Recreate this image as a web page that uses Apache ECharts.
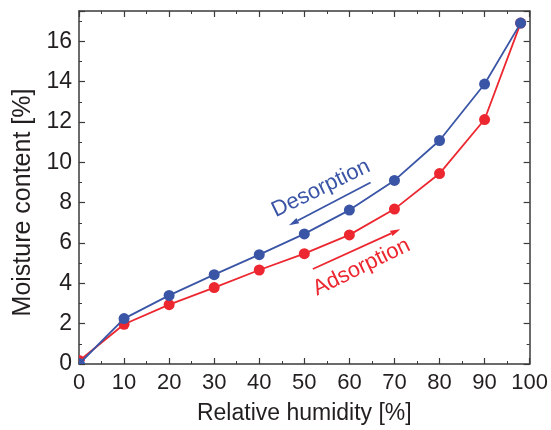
<!DOCTYPE html>
<html>
<head>
<meta charset="utf-8">
<script src="https://cdn.jsdelivr.net/npm/echarts@6/dist/echarts.min.js"></script>
<style>
html,body{margin:0;padding:0;background:#fff;}
#chart{width:551px;height:430px;}
</style>
</head>
<body>
<div id="chart"></div>
<script>
const humidity = [0, 10, 20, 30, 40, 50, 60, 70, 80, 90, 98];
const desorption = [0, 2.25, 3.4, 4.43, 5.42, 6.45, 7.63, 9.1, 11.08, 13.88, 16.9];
const adsorption = [0.15, 1.97, 2.94, 3.79, 4.66, 5.47, 6.4, 7.68, 9.44, 12.12, 16.9];
const xTicks = [0, 10, 20, 30, 40, 50, 60, 70, 80, 90, 100];
const yTicks = [0, 2, 4, 6, 8, 10, 12, 14, 16];
const desorpArrow = [[64.7, 9.0], [46.6, 6.88]];
const adsorpArrow = [[51.9, 4.71], [71.3, 6.68]];
const desorpLabel = { text: 'Desorption', pos: [53.7, 8.7] };
const adsorpLabel = { text: 'Adsorption', pos: [62.7, 4.8] };

const BLUE = '#3a55a6';
const RED = '#ec2730';
const FONT = '"Liberation Sans", Arial, Helvetica, sans-serif';
const AXIS = '#3a3a3a';
const TXT = '#231f20';

const quarter = 'path://M0,10 L0,0 A10,10 0 0,1 10,10 Z';

function pts(vals) {
  return humidity.map((x, i) => {
    if (x === 0) {
      return { value: [x, vals[i]], symbol: quarter, symbolSize: [6, 6], symbolOffset: [3, -3] };
    }
    return [x, vals[i]];
  });
}

const chart = echarts.init(document.getElementById('chart'), null, { renderer: 'canvas' });

const baseAxisX = {
  type: 'value', min: 0, max: 100, interval: 10,
  axisLine: { show: true, onZero: false, lineStyle: { color: AXIS, width: 1.5 } },
  axisTick: { show: true, inside: true, length: 6, lineStyle: { color: AXIS, width: 1.2 } },
  minorTick: { show: true, splitNumber: 2, length: 3, lineStyle: { color: AXIS, width: 1 } },
  splitLine: { show: false }
};
const baseAxisY = {
  type: 'value', min: 0, max: 17.5, interval: 2,
  axisLine: { show: true, onZero: false, lineStyle: { color: AXIS, width: 1.5 } },
  axisTick: { show: true, inside: true, length: 6, lineStyle: { color: AXIS, width: 1.2 } },
  minorTick: { show: true, splitNumber: 2, length: 3, lineStyle: { color: AXIS, width: 1 } },
  splitLine: { show: false }
};

chart.setOption({
  animation: false,
  backgroundColor: '#fff',
  grid: { left: 79, right: 21, top: 11, bottom: 64, containLabel: false },
  xAxis: [
    Object.assign({}, baseAxisX, {
      position: 'bottom',
      name: 'Relative humidity [%]', nameLocation: 'middle', nameGap: 38,
      nameTextStyle: { fontFamily: FONT, fontSize: 23, color: TXT },
      axisLabel: { fontFamily: FONT, fontSize: 22, color: TXT, margin: 8,
        formatter: v => xTicks.includes(v) ? String(v) : '' }
    }),
    Object.assign({}, baseAxisX, { position: 'top', axisLabel: { show: false } })
  ],
  yAxis: [
    Object.assign({}, baseAxisY, {
      position: 'left',
      name: 'Moisture content [%]', nameLocation: 'middle', nameGap: 42,
      nameTextStyle: { fontFamily: FONT, fontSize: 25, color: TXT, padding: [0, 30, 0, 0] },
      axisLabel: { fontFamily: FONT, fontSize: 23, color: TXT, margin: 7,
        formatter: v => yTicks.includes(v) ? String(v) : '' }
    }),
    Object.assign({}, baseAxisY, { position: 'right', axisLabel: { show: false } })
  ],
  series: [
    {
      name: 'Adsorption', type: 'line', data: pts(adsorption),
      symbol: 'circle', symbolSize: 11, showAllSymbol: true,
      itemStyle: { color: RED }, lineStyle: { color: RED, width: 1.8 },
      z: 2
    },
    {
      name: 'Desorption', type: 'line', data: pts(desorption),
      symbol: 'circle', symbolSize: 11, showAllSymbol: true,
      itemStyle: { color: BLUE }, lineStyle: { color: BLUE, width: 1.8 },
      z: 3
    }
  ]
});

function arrow(fromTo, color) {
  const p0 = chart.convertToPixel({ gridIndex: 0 }, fromTo[0]);
  const p1 = chart.convertToPixel({ gridIndex: 0 }, fromTo[1]);
  const dx = p1[0] - p0[0], dy = p1[1] - p0[1];
  const L = Math.sqrt(dx * dx + dy * dy);
  const ux = dx / L, uy = dy / L;
  const headLen = 10, headW = 3;
  const bx = p1[0] - ux * headLen, by = p1[1] - uy * headLen;
  return [
    { type: 'line', silent: true, z: 10,
      shape: { x1: p0[0], y1: p0[1], x2: bx, y2: by },
      style: { stroke: color, lineWidth: 1.8 } },
    { type: 'polygon', silent: true, z: 10,
      shape: { points: [[p1[0], p1[1]], [bx - uy * headW, by + ux * headW], [bx + uy * headW, by - ux * headW]] },
      style: { fill: color } }
  ];
}

function placeLabels() {
  const d = chart.convertToPixel({ gridIndex: 0 }, desorpLabel.pos);
  const a = chart.convertToPixel({ gridIndex: 0 }, adsorpLabel.pos);
  const rot = 26 * Math.PI / 180;
  chart.setOption({
    graphic: [
      { type: 'text', x: d[0], y: d[1], rotation: rot, z: 10,
        style: { text: desorpLabel.text, fill: BLUE, font: '22px ' + FONT, align: 'center', verticalAlign: 'middle' } },
      { type: 'text', x: a[0], y: a[1], rotation: rot, z: 10,
        style: { text: adsorpLabel.text, fill: RED, font: '22px ' + FONT, align: 'center', verticalAlign: 'middle' } }
    ].concat(arrow(desorpArrow, BLUE), arrow(adsorpArrow, RED))
  });
}
placeLabels();
</script>
</body>
</html>
